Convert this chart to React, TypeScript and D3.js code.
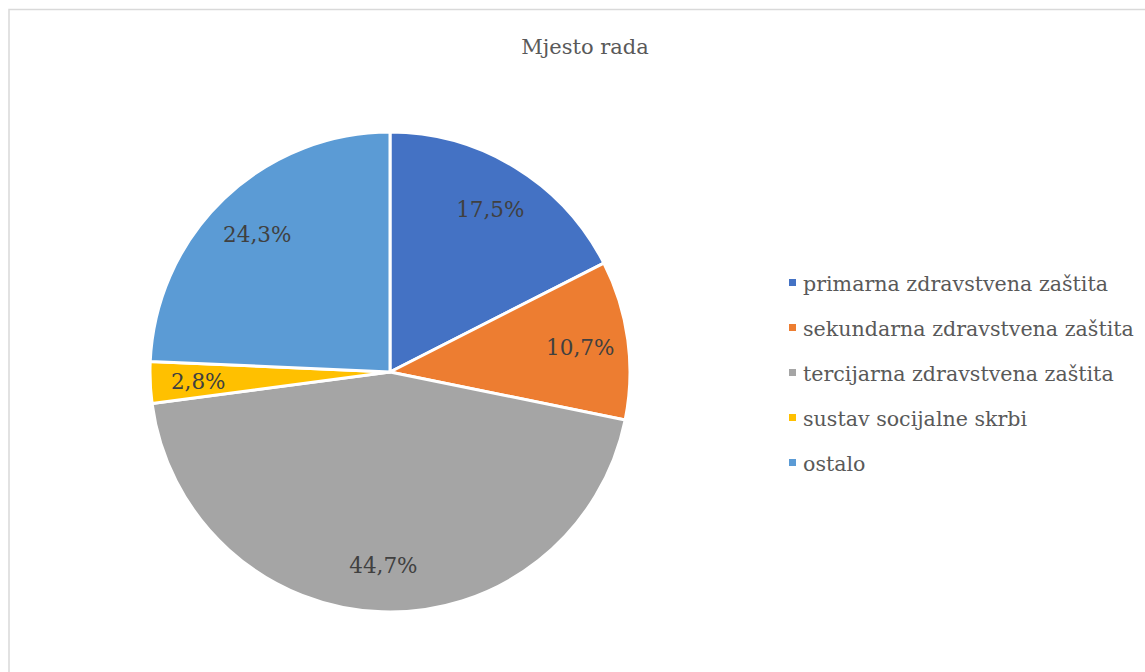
import React from 'react';
import * as d3 from 'd3';

const categories = [
  'primarna zdravstvena zaštita',
  'sekundarna zdravstvena zaštita',
  'tercijarna zdravstvena zaštita',
  'sustav socijalne skrbi',
  'ostalo',
];
const values = [17.5, 10.7, 44.7, 2.8, 24.3];
const labels = ['17,5%', '10,7%', '44,7%', '2,8%', '24,3%'];
const colors = ['#4472c4', '#ed7d31', '#a5a5a5', '#ffc000', '#5b9bd5'];

// no Times available here, DejaVu Serif is the closest serif
const FONT = '"DejaVu Serif", serif';

const App = () => {
  const width = 1145;
  const height = 672;
  const cx = 390;
  const cy = 372;
  const r = 240;

  const pie = d3.pie<number>().sort(null).value(d => d);
  const arcs = pie(values);
  const arc = d3.arc<d3.PieArcDatum<number>>().innerRadius(0).outerRadius(r);
  const labelArc = d3.arc<d3.PieArcDatum<number>>().innerRadius(r * 0.8).outerRadius(r * 0.8);

  const legendY = d3.scalePoint<string>().domain(categories).range([283, 463]);

  return (
    <svg width={width} height={height} style={{ position: 'absolute', left: 0, top: 0, fontFamily: FONT }}>
      <rect x={0} y={0} width={width} height={height} fill="#fff" />
      <rect x={9} y={9.5} width={width + 20} height={height + 20} fill="none" stroke="#d9d9d9" strokeWidth={1.5} />
      <text x={585} y={54} textAnchor="middle" fontSize={21} fill="#595959">Mjesto rada</text>
      <g transform={`translate(${cx},${cy})`}>
        {arcs.map((a, i) => (
          <path key={i} d={arc(a) || ''} fill={colors[i]} stroke="#fff" strokeWidth={3} strokeLinejoin="round" />
        ))}
        {arcs.map((a, i) => {
          const [x, y] = labelArc.centroid(a);
          return (
            <text key={i} x={x} y={y} dy="0.42em" textAnchor="middle" fontSize={21.5} fill="#404040">{labels[i]}</text>
          );
        })}
      </g>
      <g>
        {categories.map((c, i) => (
          <g key={c} transform={`translate(789,${legendY(c)})`}>
            <rect x={0} y={-4} width={7} height={7} fill={colors[i]} />
            <text x={14} y={0} dy="0.38em" fontSize={20.6} fill="#595959">{c}</text>
          </g>
        ))}
      </g>
    </svg>
  );
};

export default App;
